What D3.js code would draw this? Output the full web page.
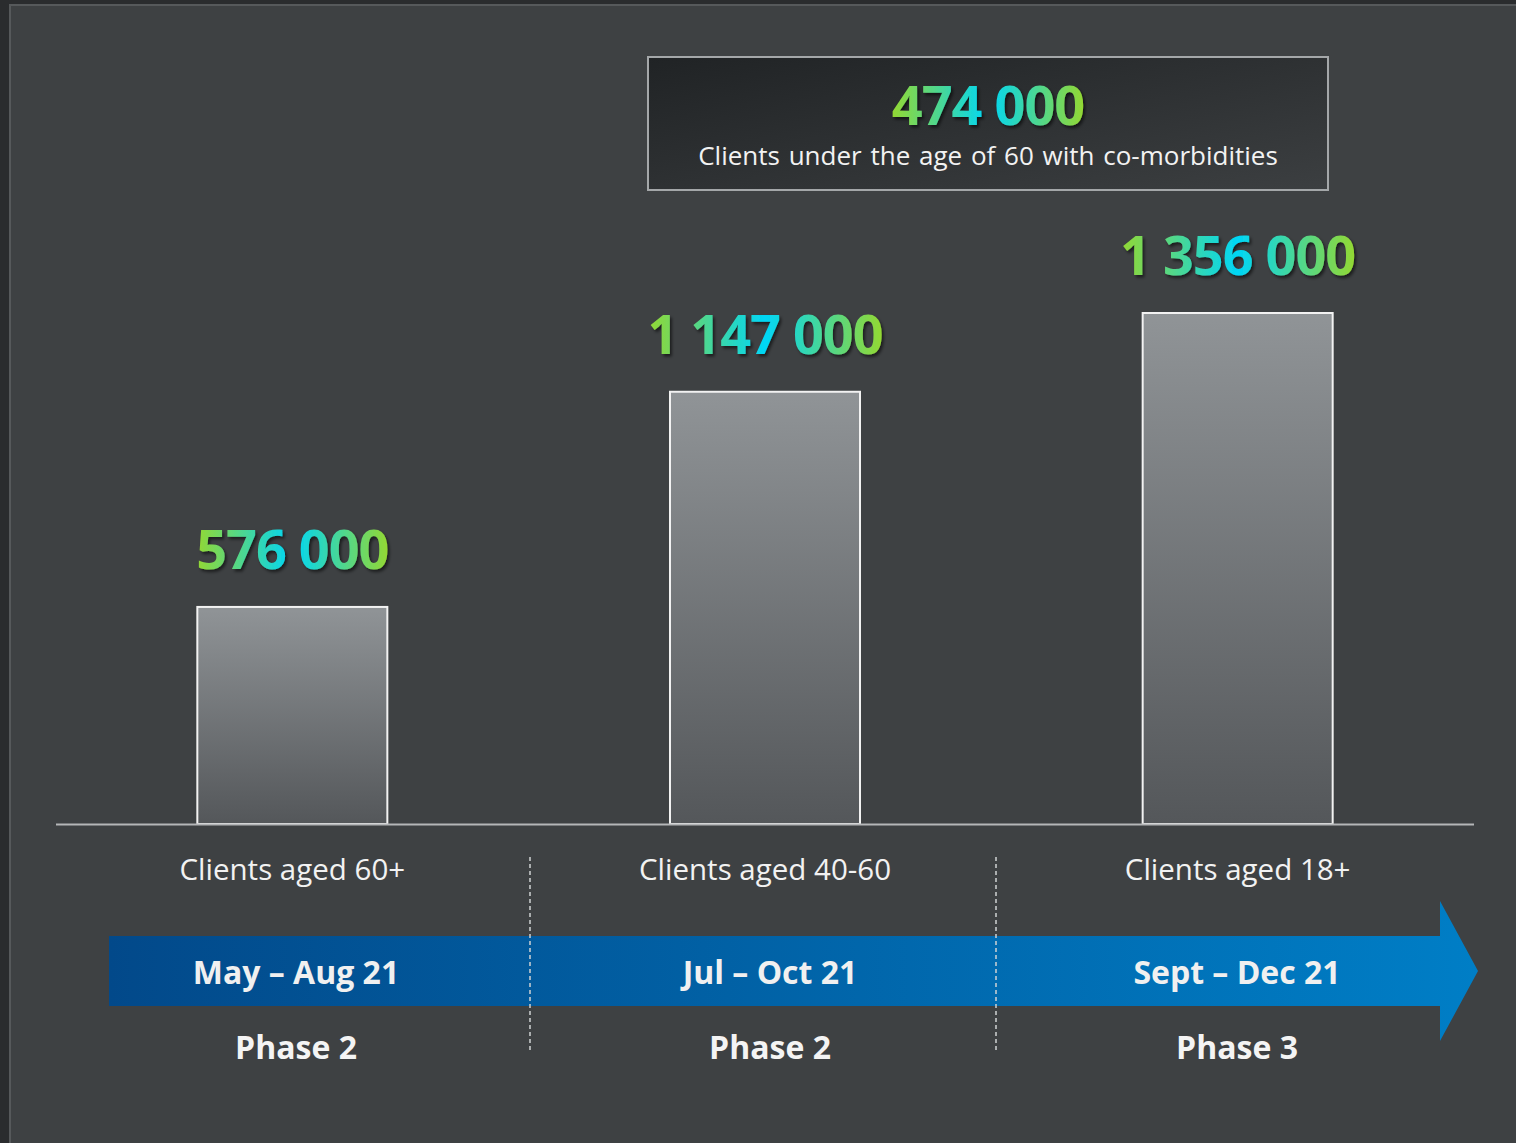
<!DOCTYPE html>
<html>
<head>
<meta charset="utf-8">
<script src="https://cdn.jsdelivr.net/npm/d3@7"></script>
<style>
  html, body { margin: 0; padding: 0; background: #2a2c2e; }
  svg { display: block; }
  text { font-family: "Open Sans", "Noto Sans", sans-serif; }
</style>
</head>
<body>
<svg id="chart" width="1516" height="1143"></svg>
<script>
// Vaccination rollout: clients per group
const categories = ["Clients aged 60+", "Clients aged 40-60", "Clients aged 18+"];
const clients = [576000, 1147000, 1356000];
const periods = ["May – Aug 21", "Jul – Oct 21", "Sept – Dec 21"];
const phases = ["Phase 2", "Phase 2", "Phase 3"];
const comorbidClients = 474000;
const comorbidLabel = "Clients under the age of 60 with co-morbidities";

const W = 1516, H = 1143;
const svg = d3.select("#chart");
const defs = svg.append("defs");

const fmt = v => d3.format(",")(v).replace(/,/g, " ");

// gradients
const numGrad = defs.append("linearGradient").attr("id", "numGrad")
  .attr("x1", "0%").attr("x2", "100%").attr("y1", "0%").attr("y2", "0%");
numGrad.append("stop").attr("offset", "0%").attr("stop-color", "#94d832");
numGrad.append("stop").attr("offset", "50%").attr("stop-color", "#00d6f6");
numGrad.append("stop").attr("offset", "100%").attr("stop-color", "#94d832");

const barGrad = defs.append("linearGradient").attr("id", "barGrad")
  .attr("x1", "0").attr("x2", "0").attr("y1", "0").attr("y2", "1");
barGrad.append("stop").attr("offset", "0%").attr("stop-color", "#909497");
barGrad.append("stop").attr("offset", "100%").attr("stop-color", "#54575a");

const boxGrad = defs.append("linearGradient").attr("id", "boxGrad")
  .attr("x1", "0").attr("x2", "1").attr("y1", "0").attr("y2", "1");
boxGrad.append("stop").attr("offset", "0%").attr("stop-color", "#202325");
boxGrad.append("stop").attr("offset", "100%").attr("stop-color", "#3c3f41");

const arrowGrad = defs.append("linearGradient").attr("id", "arrowGrad")
  .attr("gradientUnits", "userSpaceOnUse")
  .attr("x1", 109).attr("x2", 1478).attr("y1", 0).attr("y2", 0);
arrowGrad.append("stop").attr("offset", "0%").attr("stop-color", "#02498a");
arrowGrad.append("stop").attr("offset", "100%").attr("stop-color", "#007ec6");

const shadow = defs.append("filter").attr("id", "shadow")
  .attr("x", "-10%").attr("y", "-20%").attr("width", "130%").attr("height", "150%");
shadow.append("feDropShadow").attr("dx", 2).attr("dy", 2.5)
  .attr("stdDeviation", 1.6).attr("flood-color", "#000").attr("flood-opacity", 0.55);

// panel
svg.append("rect").attr("x", 10).attr("y", 5).attr("width", W).attr("height", H)
  .attr("fill", "#3e4143").attr("stroke", "#56595b").attr("stroke-width", 2);

// scales
const x = d3.scaleBand().domain(categories).range([56, 1474])
  .paddingInner(0.598).paddingOuter(0.299);
const y = d3.scaleLinear().domain([0, d3.max(clients)]).range([824, 313]);

// bars
const bars = svg.append("g");
bars.selectAll("rect").data(categories).join("rect")
  .attr("x", d => x(d))
  .attr("y", (d, i) => y(clients[i]))
  .attr("width", x.bandwidth())
  .attr("height", (d, i) => y(0) - y(clients[i]))
  .attr("fill", "url(#barGrad)")
  .attr("stroke", "#f2f2f2").attr("stroke-width", 2);

// value labels
bars.selectAll("text").data(categories).join("text")
  .attr("x", d => x(d) + x.bandwidth() / 2)
  .attr("y", (d, i) => y(clients[i]) - 38)
  .attr("text-anchor", "middle")
  .attr("font-size", 54).attr("font-weight", 700).attr("letter-spacing", -1)
  .attr("fill", "url(#numGrad)").attr("filter", "url(#shadow)")
  .text((d, i) => fmt(clients[i]));

// baseline
svg.append("line").attr("x1", 56).attr("x2", 1474).attr("y1", 824.5).attr("y2", 824.5)
  .attr("stroke", "#b4b6b8").attr("stroke-width", 2);

// category labels
svg.append("g").selectAll("text").data(categories).join("text")
  .attr("x", d => x(d) + x.bandwidth() / 2)
  .attr("y", 880)
  .attr("text-anchor", "middle")
  .attr("font-size", 29.5).attr("fill", "#f2f2f2")
  .text(d => d);

// timeline arrow
const ay0 = 936, ay1 = 1006, ax0 = 109, ax1 = 1440, tip = 1478, hy0 = 901, hy1 = 1041;
svg.append("path")
  .attr("d", `M${ax0},${ay0}H${ax1}V${hy0}L${tip},${(ay0 + ay1) / 2}L${ax1},${hy1}V${ay1}H${ax0}Z`)
  .attr("fill", "url(#arrowGrad)");

// dashed separators between periods
const seps = [530, 996];
svg.append("g").selectAll("line").data(seps).join("line")
  .attr("x1", d => d).attr("x2", d => d).attr("y1", 857).attr("y2", 1053)
  .attr("stroke", "#d0d2d4").attr("stroke-width", 1.5).attr("stroke-dasharray", "4,3");

const periodX = [296, 770, 1237];
svg.append("g").selectAll("text").data(periods).join("text")
  .attr("x", (d, i) => periodX[i]).attr("y", 984)
  .attr("text-anchor", "middle")
  .attr("font-size", 32).attr("font-weight", 700).attr("fill", "#f0f0f0")
  .text(d => d);

svg.append("g").selectAll("text").data(phases).join("text")
  .attr("x", (d, i) => periodX[i]).attr("y", 1059)
  .attr("text-anchor", "middle")
  .attr("font-size", 32).attr("font-weight", 700).attr("fill", "#f4f4f4")
  .text(d => d);

// co-morbidities callout
const box = svg.append("g");
box.append("rect").attr("x", 648).attr("y", 57).attr("width", 680).attr("height", 133)
  .attr("fill", "url(#boxGrad)").attr("stroke", "#a4a7a9").attr("stroke-width", 2);
box.append("text").attr("x", 988).attr("y", 125).attr("text-anchor", "middle")
  .attr("font-size", 54).attr("font-weight", 700).attr("letter-spacing", -1)
  .attr("fill", "url(#numGrad)").attr("filter", "url(#shadow)")
  .text(fmt(comorbidClients));
box.append("text").attr("x", 988).attr("y", 165).attr("text-anchor", "middle")
  .attr("font-size", 26).attr("word-spacing", 2).attr("fill", "#f2f2f2")
  .text(comorbidLabel);
</script>
</body>
</html>
